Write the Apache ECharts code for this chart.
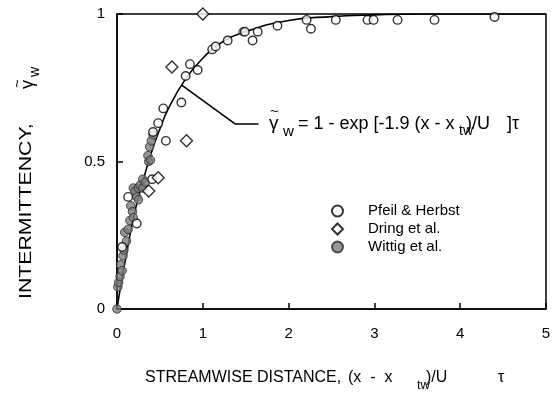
<!DOCTYPE html>
<html>
<head>
<meta charset="utf-8">
<script src="https://cdn.jsdelivr.net/npm/echarts@6/dist/echarts.min.js"></script>
<style>
  html, body { margin: 0; padding: 0; background: #fff; }
  #c { width: 557px; height: 396px; }
</style>
</head>
<body>
<div id="c"></div>
<script>
// ---- data ----
const xTicks = [0, 1, 2, 3, 4, 5];
const yTicks = [0, 0.5, 1];

// Pfeil & Herbst (open circles)
const pfeil = [
  [0.06, 0.21], [0.13, 0.38], [0.23, 0.29], [0.41, 0.44],
  [0.42, 0.60], [0.48, 0.63], [0.54, 0.68], [0.57, 0.57], [0.75, 0.70],
  [0.80, 0.79], [0.85, 0.83], [0.94, 0.81], [1.11, 0.88], [1.15, 0.89],
  [1.29, 0.91], [1.49, 0.94], [1.58, 0.91], [1.64, 0.94], [1.87, 0.96],
  [2.21, 0.98], [2.26, 0.95], [2.55, 0.98], [2.92, 0.98], [2.99, 0.98],
  [3.27, 0.98], [3.70, 0.98], [4.40, 0.99]
];

// Dring et al. (open diamonds)
const dring = [
  [1.00, 1.00], [0.64, 0.82], [0.81, 0.57], [0.48, 0.445], [0.37, 0.40]
];

// Wittig et al. (grey filled circles)
const wittig = [
  [0.00, 0.00], [0.01, 0.075], [0.02, 0.09], [0.035, 0.11], [0.04, 0.15],
  [0.06, 0.13], [0.07, 0.18], [0.08, 0.20], [0.09, 0.26], [0.11, 0.23],
  [0.13, 0.27], [0.15, 0.30], [0.16, 0.35], [0.18, 0.33], [0.19, 0.31],
  [0.19, 0.41], [0.21, 0.40], [0.23, 0.38], [0.25, 0.37], [0.25, 0.41],
  [0.27, 0.42], [0.30, 0.41], [0.30, 0.44], [0.33, 0.43], [0.36, 0.52],
  [0.37, 0.50], [0.38, 0.55], [0.39, 0.505], [0.40, 0.57], [0.42, 0.59],
  [1.47, 0.94]
];

// fitted curve
const fitCurve = [
  [0, 0], [0.05, 0.09], [0.1, 0.17], [0.2, 0.32], [0.3, 0.43], [0.4, 0.53],
  [0.5, 0.61], [0.6, 0.68], [0.8, 0.78], [1.0, 0.85], [1.2, 0.90],
  [1.5, 0.94], [2.0, 0.978], [2.5, 0.991], [3.0, 0.997], [3.5, 1.0],
  [4.0, 1.0], [4.5, 1.0], [5.0, 1.0]
];

// leader line from the curve to the equation
const leader = [[0.75, 0.76], [1.38, 0.627], [1.65, 0.627]];

const FONT = '"Liberation Sans", Arial, sans-serif';

const chart = echarts.init(document.getElementById('c'), null, { renderer: 'canvas' });

const axisCommon = {
  axisLine: { show: true, lineStyle: { color: '#000', width: 1.5 } },
  axisTick: { show: true, inside: true, length: 6, lineStyle: { color: '#000', width: 1.5 } },
  splitLine: { show: false },
  axisLabel: { color: '#000', fontFamily: FONT, fontSize: 15 }
};

// plain text pieces placed by pixel (labels only, no data marks)
const t = (left, top, text, size, extra) => Object.assign({
  type: 'text', left, top, silent: true,
  style: { text, fontFamily: FONT, fontSize: size, fill: '#000' }
}, extra || {});
const lt = (x, y, text, size, extra) => Object.assign({
  type: 'text', x, y, silent: true,
  style: { text, fontFamily: FONT, fontSize: size, fill: '#000' }
}, extra || {});

chart.setOption({
  animation: false,
  backgroundColor: '#fff',
  grid: { left: 117, right: 11, top: 14, bottom: 87, show: true, borderColor: '#000', borderWidth: 1.5 },
  xAxis: Object.assign({}, axisCommon, {
    type: 'value', min: xTicks[0], max: xTicks[xTicks.length - 1], interval: 1,
    axisLabel: Object.assign({}, axisCommon.axisLabel, { margin: 17 })
  }),
  yAxis: Object.assign({}, axisCommon, {
    type: 'value', min: yTicks[0], max: yTicks[yTicks.length - 1], interval: 0.5,
    axisLabel: Object.assign({}, axisCommon.axisLabel, { margin: 12 })
  }),
  legend: {
    orient: 'vertical', left: 326, top: 197, itemGap: 0,
    itemWidth: 11, itemHeight: 11,
    textStyle: { fontFamily: FONT, fontSize: 15, color: '#000', lineHeight: 18, padding: [0, 0, 0, 20] },
    data: [
      { name: 'Pfeil & Herbst', icon: 'circle' },
      { name: 'Dring et al.', icon: 'diamond' },
      { name: 'Wittig et al.', icon: 'circle' }
    ]
  },
  series: [
    {
      name: 'fit', type: 'line', data: fitCurve, smooth: true, showSymbol: false,
      lineStyle: { color: '#000', width: 1.6 }, z: 1
    },
    {
      name: 'leader', type: 'line', data: leader, showSymbol: false,
      lineStyle: { color: '#000', width: 1.6 }, z: 1
    },
    {
      name: 'Wittig et al.', type: 'scatter', data: wittig, symbol: 'circle', symbolSize: 8.5,
      itemStyle: { color: '#7d7d7d', borderColor: '#2a2a2a', borderWidth: 1 }, z: 3
    },
    {
      name: 'Pfeil & Herbst', type: 'scatter', data: pfeil, symbol: 'circle', symbolSize: 8.5,
      itemStyle: { color: '#fff', borderColor: '#000', borderWidth: 1.4 }, z: 4
    },
    {
      name: 'Dring et al.', type: 'scatter', data: dring, symbol: 'diamond', symbolSize: 12,
      itemStyle: { color: '#fff', borderColor: '#000', borderWidth: 1.4 }, z: 4
    }
  ],
  graphic: [
    // equation
    t(269, 114, 'γ', 19),
    t(270, 104, '~', 15),
    t(283, 124, 'w', 15),
    t(298, 115, '= 1 - exp [-1.9 (x - x', 18),
    t(459, 124, 'tw', 14),
    t(466, 115, ')/U', 18),
    t(507, 115, ']τ', 18),
    // x-axis title
    t(145, 370, 'STREAMWISE DISTANCE,', 16),
    t(348, 370, '(x  -  x', 16),
    t(417, 379, 'tw', 13),
    t(426, 370, ')/U', 16),
    t(498, 370, 'τ', 16),
    // y-axis title, reads bottom to top
    {
      type: 'group', x: 19, y: 299, rotation: Math.PI / 2, silent: true,
      children: [
        lt(0, 0, 'INTERMITTENCY,', 16, { scaleX: 1.33 }),
        lt(210, 0, 'γ', 18),
        lt(211, -9, '~', 15),
        lt(222, 9, 'w', 14)
      ]
    }
  ]
});
</script>
</body>
</html>
